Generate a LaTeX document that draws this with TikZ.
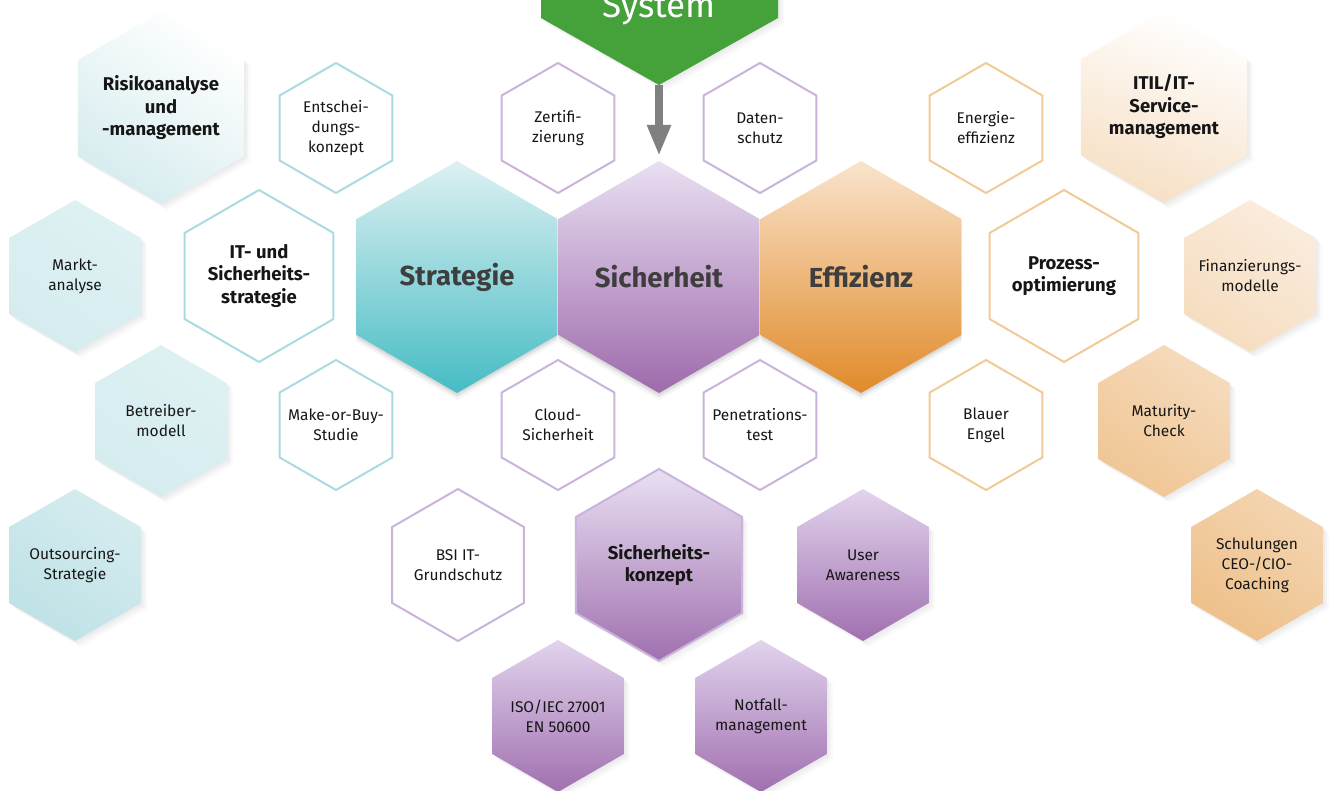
\documentclass[tikz,border=0pt]{standalone}
\usepackage{fontspec}
\setmainfont{Fira Sans}
\usetikzlibrary{shadows,arrows.meta}

\definecolor{ink}{RGB}{22,22,22}
\definecolor{bigink}{RGB}{62,62,62}
\definecolor{sysgreen}{RGB}{69,161,58}
\definecolor{arrowgray}{RGB}{128,128,128}
\definecolor{tealline}{RGB}{170,219,225}
\definecolor{purpline}{RGB}{202,180,220}
\definecolor{orline}{RGB}{242,202,152}
\definecolor{tealtop}{RGB}{222,241,243}
\definecolor{tealbot}{RGB}{70,188,196}
\definecolor{purptop}{RGB}{233,224,242}
\definecolor{purpbot}{RGB}{158,106,172}
\definecolor{ortop}{RGB}{249,228,204}
\definecolor{orbot}{RGB}{225,138,42}
\definecolor{tealA}{RGB}{214,236,239}
\definecolor{tealB}{RGB}{190,226,230}
\definecolor{purpA}{RGB}{226,212,237}
\definecolor{purpB}{RGB}{160,112,176}
\definecolor{orA}{RGB}{248,228,206}
\definecolor{orB}{RGB}{240,198,148}

\newcommand{\hexa}[6][]{%
  \path [#1, shift={(#4)}] (90:#5) -- (150:#5) -- (210:#5) -- (270:#5) -- (330:#5) -- (30:#5) -- cycle;
  \node [#2] (#3) at (#4) {#6};
}

\begin{document}
\begin{tikzpicture}[x=1pt, y=-1pt,
  lbl/.style={align=center, text=ink, font=\fontsize{15.5}{20}\selectfont},
  lblb/.style={align=center, text=ink, font=\bfseries\fontsize{18.5}{22.5}\selectfont},
  lblbig/.style={text=bigink, font=\bfseries\fontsize{27.5}{30}\selectfont},
  tline/.style={draw=tealline, line width=2pt, fill=white},
  pline/.style={draw=purpline, line width=2pt, fill=white},
  oline/.style={draw=orline, line width=2pt, fill=white},
  soft/.style={drop shadow={opacity=.05, shadow xshift=2pt, shadow yshift=-2pt},
    drop shadow={opacity=.05, shadow xshift=4pt, shadow yshift=-4pt},
    drop shadow={opacity=.04, shadow xshift=6pt, shadow yshift=-6pt}},
  big/.style={drop shadow={opacity=.12, shadow xshift=0pt, shadow yshift=-2pt},
    drop shadow={opacity=.12, shadow xshift=0pt, shadow yshift=-4pt},
    drop shadow={opacity=.08, shadow xshift=0pt, shadow yshift=-7pt}}
]
\useasboundingbox [fill=white] (0,0) rectangle (1331,791);

% system arrow
\coordinate (sysTip) at (659,85);
\coordinate (arrEnd) at (659,156);
\draw [arrowgray, line width=8pt, -{Triangle[width=22pt, length=31pt]}] (sysTip) -- (arrEnd);
\fill [sysgreen, soft] (541,-20) -- (541,18) -- (sysTip) -- (778,18) -- (778,-20) -- cycle;
\node [text=white, font=\fontsize{35}{38}\selectfont, anchor=base] (system) at (659,18) {System};

% strategie
\hexa[soft, top color=white, bottom color=tealA, shading angle=-35]{lblb}{risiko}{161,108}{96}{Risikoanalyse\\und\\-management}
\hexa[soft, top color=tealtop, bottom color=tealA, shading angle=-35]{lbl}{markt}{75,276}{76}{Markt-\\analyse}
\hexa[soft, top color=tealtop, bottom color=tealA, shading angle=-35]{lbl}{betreiber}{161,421}{76}{Betreiber-\\modell}
\hexa[soft, top color=tealA, bottom color=tealB, shading angle=-35]{lbl}{outsourcing}{75,565}{76}{Outsourcing-\\Strategie}
\hexa[tline]{lbl}{entscheid}{336,128}{65}{Entschei-\\dungs-\\konzept}
\hexa[tline]{lblb}{itsich}{259,276}{86}{IT- und\\Sicherheits-\\strategie}
\hexa[tline]{lbl}{makebuy}{336,425}{65}{Make-or-Buy-\\Studie}

% sicherheit
\hexa[pline]{lbl}{zert}{558,128}{65}{Zertifi-\\zierung}
\hexa[pline]{lbl}{daten}{760,128}{65}{Daten-\\schutz}
\hexa[pline]{lbl}{cloud}{558,425}{65}{Cloud-\\Sicherheit}
\hexa[pline]{lbl}{pentest}{760,425}{65}{Penetrations-\\test}
\hexa[pline]{lbl}{bsi}{458,565}{76}{BSI IT-\\Grundschutz}
\hexa[soft, draw=purpline, line width=2pt, top color=purptop, bottom color=purpB]{lblb}{sichkon}{659,565}{96}{Sicherheits-\\konzept}
\hexa[soft, top color=purpA, bottom color=purpB]{lbl}{user}{863,565}{76}{User\\Awareness}
\hexa[soft, top color=purpA, bottom color=purpB]{lbl}{iso}{558,716}{76}{ISO/IEC 27001\\EN 50600}
\hexa[soft, top color=purpA, bottom color=purpB]{lbl}{notfall}{761,716}{76}{Notfall-\\management}

% effizienz
\hexa[oline]{lbl}{energie}{986,128}{65}{Energie-\\effizienz}
\hexa[oline]{lblb}{prozess}{1064,276}{86}{Prozess-\\optimierung}
\hexa[oline]{lbl}{blauer}{986,425}{65}{Blauer\\Engel}
\hexa[soft, top color=white, bottom color=orA!85!orB, shading angle=-20]{lblb}{itil}{1164,107}{96}{ITIL/IT-\\Service-\\management}
\hexa[soft, top color=orA!70!white, bottom color=orA!75!orB, shading angle=-35]{lbl}{finanz}{1250,276}{76}{Finanzierungs-\\modelle}
\hexa[soft, top color=orA!70!orB, bottom color=orB, shading angle=-35]{lbl}{maturity}{1164,421}{76}{Maturity-\\Check}
\hexa[soft, top color=orA!50!orB, bottom color=orB!90!orbot, shading angle=-35]{lbl}{schulung}{1257,565}{76}{Schulungen\\CEO-/CIO-\\Coaching}

% main hexes
\hexa[big, top color=tealtop, bottom color=tealbot]{lblbig}{strategie}{457,277}{116}{Strategie}
\hexa[big, top color=purptop, bottom color=purpbot]{lblbig}{sicherheit}{659,277}{116}{Sicherheit}
\hexa[big, top color=ortop, bottom color=orbot]{lblbig}{effizienz}{861,277}{116}{Effizienz}
\end{tikzpicture}
\end{document}
